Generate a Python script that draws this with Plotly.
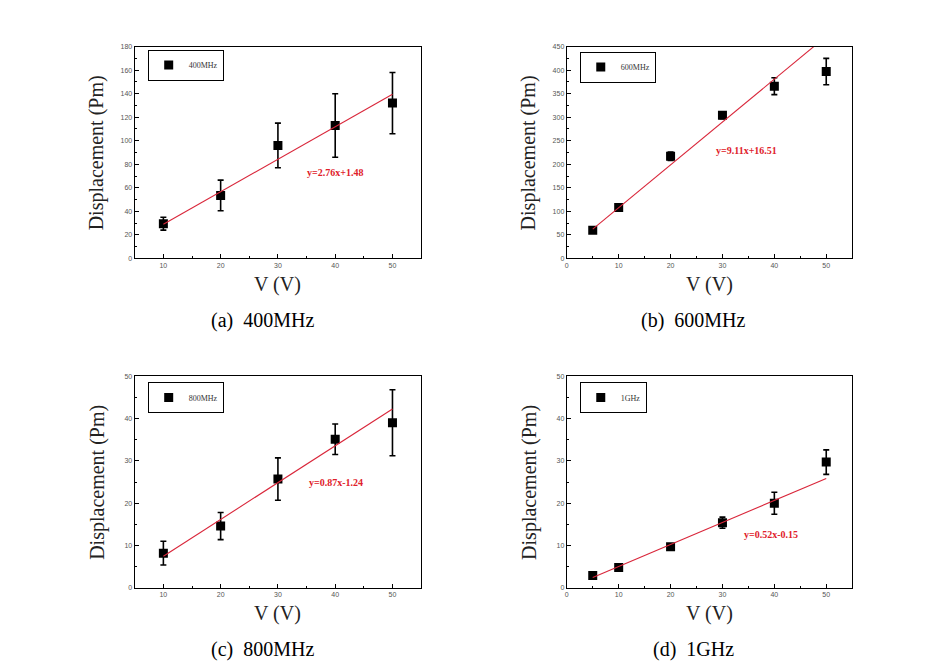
import plotly.graph_objects as go

# ---------------- data ----------------
labels = ["400MHz", "600MHz", "800MHz", "1GHz"]
captions = ["(a)  400MHz", "(b)  600MHz", "(c)  800MHz", "(d)  1GHz"]

v_a = [10, 20, 30, 40, 50]
d_a = [29.5, 53.5, 96, 113, 132]
e_a = [5.5, 13, 19, 27, 26]

v_b = [5, 10, 20, 30, 40, 50]
d_b = [60, 108, 217, 304, 366, 397]
e_b = [3, 4, 9, 7, 18, 28]

v_c = [10, 20, 30, 40, 50]
d_c = [8.2, 14.6, 25.7, 35.1, 39.0]
e_c = [2.8, 3.2, 5.0, 3.6, 7.8]

v_d = [5, 10, 20, 30, 40, 50]
d_d = [2.9, 4.8, 9.7, 15.4, 20.0, 29.7]
e_d = [0.4, 0.4, 0.5, 1.3, 2.6, 2.9]

slopes = [2.76, 9.11, 0.87, 0.52]
intercepts = [1.48, 16.51, -1.24, -0.15]
fit_x = [[10, 50], [5, 50], [10, 50], [5, 50]]
fit_labels = ["y=2.76x+1.48", "y=9.11x+16.51", "y=0.87x-1.24", "y=0.52x-0.15"]
fit_label_pos = [(34.8, 73), (28.3, 229), (35.1, 25), (33.8, 12.6)]

x_ranges = [[5, 55], [0, 55], [5, 55], [0, 55]]
x_tick0 = [10, 0, 10, 0]
y_ranges = [[0, 180], [0, 450], [0, 50], [0, 50]]
y_dticks = [20, 50, 10, 10]

# ---------------- layout geometry ----------------
W, H = 928, 668
boxes = [(125, 412, 35, 249), (558, 844, 35, 249),
         (125, 412, 368, 582), (558, 844, 368, 582)]  # left,right,top,bottom px
legend_pos = [(138, 38), (571, 40), (138, 374), (571, 374)]
caption_pos = [(253, 312), (685, 312), (253, 644), (685, 644)]

series = [(v_a, d_a, e_a), (v_b, d_b, e_b), (v_c, d_c, e_c), (v_d, d_d, e_d)]

serif = "Liberation Serif, Times New Roman, serif"
fig = go.Figure()
layout = dict(width=W, height=H, margin=dict(l=0, r=0, t=0, b=0),
              paper_bgcolor="white", plot_bgcolor="white", showlegend=True)
annotations = []

for i in range(4):
    n = "" if i == 0 else str(i + 1)
    xa, ya = "x" + n, "y" + n
    lg = "legend" + n
    vx, dy, ee = series[i]
    fig.add_trace(go.Scatter(
        x=vx, y=dy, mode="markers", name=labels[i], xaxis=xa, yaxis=ya, legend=lg,
        marker=dict(symbol="square", size=9, color="black"),
        error_y=dict(type="data", array=ee, visible=True, color="black",
                     thickness=1.6, width=3)))
    fx = fit_x[i]
    fy = [slopes[i] * x + intercepts[i] for x in fx]
    fig.add_trace(go.Scatter(
        x=fx, y=fy, mode="lines", xaxis=xa, yaxis=ya, showlegend=False,
        line=dict(color="#d9263a", width=1.1)))

    l, r, t, b = boxes[i]
    xdom = [l / W, r / W]
    ydom = [1 - b / H, 1 - t / H]
    common = dict(showline=True, linecolor="black", linewidth=1.2, mirror=True,
                  ticks="inside", ticklen=4, tickcolor="black", showgrid=False,
                  zeroline=False,
                  tickfont=dict(family="Arial, Liberation Sans, sans-serif", size=7, color="#555"))
    layout["xaxis" + n] = dict(common, domain=xdom, range=x_ranges[i],
                               tick0=x_tick0[i], dtick=10, anchor=ya,
                               minor=dict(ticks="inside", ticklen=2, dtick=5,
                                          tickcolor="black", showgrid=False))
    layout["yaxis" + n] = dict(common, domain=ydom, range=y_ranges[i],
                               tick0=0, dtick=y_dticks[i], anchor=xa,
                               minor=dict(ticks="inside", ticklen=2,
                                          dtick=y_dticks[i] / 2, tickcolor="black",
                                          showgrid=False))
    lx, ly = legend_pos[i]
    layout[lg] = dict(x=lx / W, y=1 - ly / H, xanchor="left", yanchor="top",
                      bordercolor="black", borderwidth=1, bgcolor="white",
                      font=dict(family=serif, size=8, color="#333"),
                      itemwidth=30, tracegroupgap=0)

    # fit equation label
    fxp, fyp = fit_label_pos[i]
    annotations.append(dict(x=fxp, y=fyp, xref=xa, yref=ya,
                            text="<b>" + fit_labels[i] + "</b>",
                            showarrow=False, xanchor="left", yanchor="middle",
                            font=dict(family=serif, size=10, color="#e0202a")))
    # axis titles
    annotations.append(dict(x=(l - 38) / W, y=1 - ((t + b) / 2) / H, xref="paper", yref="paper",
                            text="Displacement (Pm)", textangle=-90, showarrow=False,
                            xanchor="center", yanchor="middle",
                            font=dict(family=serif, size=20, color="#222")))
    annotations.append(dict(x=((l + r) / 2) / W, y=1 - (b + 26) / H, xref="paper", yref="paper",
                            text="V (V)", showarrow=False, xanchor="center", yanchor="middle",
                            font=dict(family=serif, size=20, color="#222")))
    cx, cy = caption_pos[i]
    annotations.append(dict(x=cx / W, y=1 - cy / H, xref="paper", yref="paper",
                            text=captions[i], showarrow=False, xanchor="center", yanchor="middle",
                            font=dict(family=serif, size=20, color="black")))

layout["annotations"] = annotations
fig.update_layout(**layout)
fig.write_html("out.html")
